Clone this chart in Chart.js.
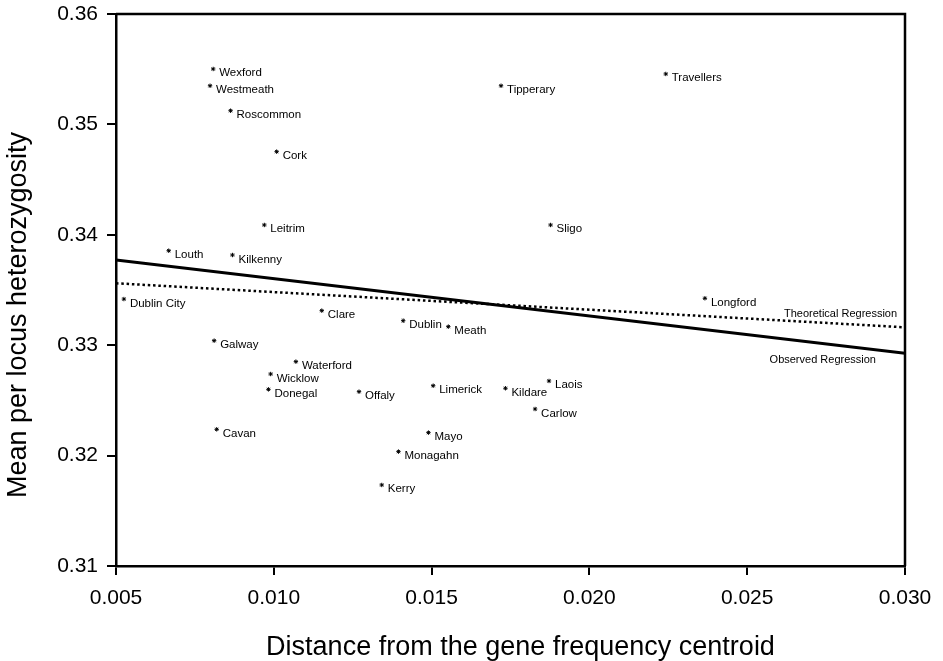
<!DOCTYPE html>
<html>
<head>
<meta charset="utf-8">
<title>Heterozygosity vs distance from centroid</title>
<script src="https://cdn.jsdelivr.net/npm/chart.js@4/dist/chart.umd.min.js"></script>
<style>
  html, body { margin: 0; padding: 0; background: #fff; }
  #wrap { width: 943px; height: 661px; position: relative; }
</style>
</head>
<body>
<div id="wrap"><canvas id="chart"></canvas></div>
<script>
// Sample points
const counties = ['Wexford', 'Westmeath', 'Roscommon', 'Cork', 'Leitrim', 'Louth', 'Kilkenny',
  'Tipperary', 'Travellers', 'Sligo', 'Dublin City', 'Clare', 'Dublin', 'Meath', 'Longford',
  'Galway', 'Waterford', 'Wicklow', 'Donegal', 'Offaly', 'Limerick', 'Kildare', 'Laois',
  'Carlow', 'Cavan', 'Mayo', 'Monagahn', 'Kerry'];
const distance = [0.00808, 0.00798, 0.00863, 0.01009, 0.00970, 0.00667, 0.00869,
  0.01720, 0.02242, 0.01877, 0.00525, 0.01152, 0.01410, 0.01553, 0.02366,
  0.00811, 0.01070, 0.00990, 0.00983, 0.01270, 0.01505, 0.01734, 0.01872,
  0.01828, 0.00819, 0.01490, 0.01395, 0.01342];
const heterozygosity = [0.35502, 0.35350, 0.35124, 0.34753, 0.34089, 0.33856, 0.33817,
  0.35350, 0.35457, 0.34089, 0.33418, 0.33313, 0.33222, 0.33168, 0.33425,
  0.33041, 0.32851, 0.32739, 0.32600, 0.32579, 0.32633, 0.32610, 0.32676,
  0.32422, 0.32238, 0.32208, 0.32036, 0.31734];

// Regression lines (end points at the axis limits)
const lineX = [0.005, 0.030];
const observedY = [0.33772, 0.32927];
const theoreticalY = [0.33561, 0.33162];

// Captions for the two lines, in data units (right-aligned)
const captionText = ['Theoretical Regression', 'Observed Regression'];
const captionX = [0.02975, 0.02908];
const captionY = [0.33255, 0.32839];

const xTicks = [0.005, 0.010, 0.015, 0.020, 0.025, 0.030];
const yTicks = [0.31, 0.32, 0.33, 0.34, 0.35, 0.36];

const xTitle = 'Distance from the gene frequency centroid';
const yTitle = 'Mean per locus heterozygosity';

const FONT = '"Liberation Sans", Arial, Helvetica, sans-serif';

const pts = distance.map((x, i) => ({ x: x, y: heterozygosity[i] }));
const obs = lineX.map((x, i) => ({ x: x, y: observedY[i] }));
const theo = lineX.map((x, i) => ({ x: x, y: theoreticalY[i] }));

// Point labels, line captions, axis titles and the top/right frame
const extrasPlugin = {
  id: 'extras',
  afterDatasetsDraw(chart) {
    const ctx = chart.ctx;
    const xs = chart.scales.x, ys = chart.scales.y;
    const a = chart.chartArea;
    ctx.save();
    ctx.fillStyle = '#000';
    ctx.textBaseline = 'alphabetic';
    ctx.font = '11.5px ' + FONT;
    ctx.textAlign = 'left';
    chart.getDatasetMeta(0).data.forEach((p, i) => {
      ctx.fillText(counties[i], p.x + 6, p.y + 7.5);
    });
    ctx.font = '11px ' + FONT;
    ctx.textAlign = 'right';
    captionText.forEach((t, i) => {
      ctx.fillText(t, xs.getPixelForValue(captionX[i]), ys.getPixelForValue(captionY[i]));
    });

    // axis titles
    ctx.font = '27px ' + FONT;
    ctx.textAlign = 'center';
    ctx.fillText(xTitle, (a.left + a.right) / 2 + 10, 655);
    ctx.save();
    ctx.translate(26, (a.top + a.bottom) / 2 + 25);
    ctx.rotate(-Math.PI / 2);
    ctx.fillText(yTitle, 0, 0);
    ctx.restore();

    ctx.strokeStyle = '#000';
    ctx.lineWidth = 2.5;
    ctx.beginPath();
    ctx.moveTo(a.left, a.top);
    ctx.lineTo(a.right, a.top);
    ctx.lineTo(a.right, a.bottom);
    ctx.stroke();
    ctx.restore();
  }
};

new Chart(document.getElementById('chart'), {
  type: 'scatter',
  data: {
    datasets: [
      { label: 'Counties', data: pts, pointStyle: 'star', radius: 2.2, borderWidth: 1,
        borderColor: '#000', backgroundColor: '#000' },
      { label: 'Observed', type: 'line', data: obs, showLine: true, borderColor: '#000',
        borderWidth: 2.8, pointRadius: 0, fill: false },
      { label: 'Theoretical', type: 'line', data: theo, showLine: true, borderColor: '#000',
        borderWidth: 2.5, borderDash: [2.5, 2.8], pointRadius: 0, fill: false }
    ]
  },
  options: {
    responsive: true,
    maintainAspectRatio: false,
    animation: false,
    devicePixelRatio: 1,
    layout: { padding: { top: 14, right: 38, left: 0, bottom: 0 } },
    plugins: { legend: { display: false }, tooltip: { enabled: false } },
    scales: {
      x: {
        type: 'linear', min: 0.005, max: 0.030,
        afterBuildTicks: s => { s.ticks = xTicks.map(v => ({ value: v })); },
        afterFit: s => { s.height = 95; s.paddingLeft = 0; s.paddingRight = 0; },
        border: { display: true, color: '#000', width: 2.5 },
        grid: { drawOnChartArea: false, drawTicks: true, tickLength: 9, color: '#000', lineWidth: 2 },
        ticks: { color: '#000', font: { family: FONT, size: 21 }, padding: 11, maxRotation: 0,
          callback: v => v.toFixed(3) }
      },
      y: {
        type: 'linear', min: 0.31, max: 0.36,
        afterBuildTicks: s => { s.ticks = yTicks.map(v => ({ value: v })); },
        afterFit: s => { s.width = 116; s.paddingTop = 0; s.paddingBottom = 0; },
        border: { display: true, color: '#000', width: 2.5 },
        grid: { drawOnChartArea: false, drawTicks: true, tickLength: 9, color: '#000', lineWidth: 2 },
        ticks: { color: '#000', font: { family: FONT, size: 21 }, padding: 9,
          callback: v => v.toFixed(2) }
      }
    }
  },
  plugins: [extrasPlugin]
});
</script>
</body>
</html>
